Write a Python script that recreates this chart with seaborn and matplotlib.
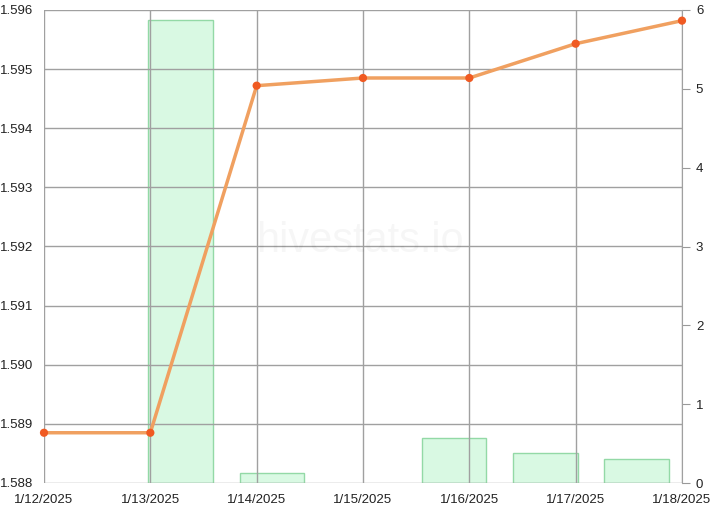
import matplotlib
matplotlib.use("Agg")
import matplotlib.pyplot as plt
import seaborn as sns
import pandas as pd

# Chart data
dates = ["1/12/2025", "1/13/2025", "1/14/2025", "1/15/2025",
         "1/16/2025", "1/17/2025", "1/18/2025"]
price = [1.58885, 1.58885, 1.59472, 1.59485, 1.59485, 1.59543, 1.59582]
volume = [0.0, 5.87, 0.13, 0.0, 0.57, 0.38, 0.30]
left_ticks = [1.588, 1.589, 1.590, 1.591, 1.592, 1.593, 1.594, 1.595, 1.596]
right_ticks = [0, 1, 2, 3, 4, 5, 6]

sns.set_style("white")
plt.rcParams['font.family'] = ['Liberation Sans', 'DejaVu Sans']

df = pd.DataFrame({"date": dates, "idx": range(len(dates)),
                   "price": price, "volume": volume})

fig = plt.figure(figsize=(7.12, 5.12), dpi=100)
rect = [44 / 712, 1 - 483 / 512, (682 - 44) / 712, (483 - 10) / 512]

# Volume bars (categorical slots, right axis)
ax_bar = fig.add_axes(rect)
sns.barplot(data=df, x="date", y="volume", ax=ax_bar, width=0.71,
            color="#d9f9e3", edgecolor="#93d9a6", linewidth=1, saturation=1)
# hide empty bars (no outline for zero volume)
for patch in ax_bar.patches:
    if patch.get_height() == 0:
        patch.set_visible(False)
ax_bar.set_xlim(-0.5, len(dates) - 0.5)
ax_bar.set_ylim(0, 6)
ax_bar.set_xticks([])
ax_bar.set_xlabel("")
ax_bar.set_ylabel("")
ax_bar.yaxis.tick_right()
ax_bar.set_yticks(right_ticks)
ax_bar.tick_params(axis="y", length=6, color="#999999", labelsize=9.5,
                   labelcolor="#222222", pad=4)
for s in ax_bar.spines.values():
    s.set_visible(False)

# Price line (left axis), drawn on top with grid
ax = fig.add_axes(rect)
ax.patch.set_alpha(0)
sns.lineplot(data=df, x="idx", y="price", ax=ax, color="#f0a060",
             linewidth=2.5, zorder=3)
sns.scatterplot(data=df, x="idx", y="price", ax=ax, color="#f05a22",
                s=35, edgecolor="none", zorder=4, clip_on=False)
ax.set_xlim(0, len(dates) - 1)
ax.set_ylim(1.588, 1.596)
ax.set_xticks(df["idx"])
ax.set_xticklabels(dates)
ax.set_yticks(left_ticks)
ax.set_yticklabels([f"{v:.3f}" for v in left_ticks])
ax.set_xlabel("")
ax.set_ylabel("")
ax.grid(True, color="#a0a0a0", linewidth=1)
ax.tick_params(axis="both", length=6, color="#a0a0a0", labelsize=9.5,
               labelcolor="#222222", pad=2)
for side in ["top", "left", "bottom"]:
    ax.spines[side].set_visible(False)
ax.spines["right"].set_color("#a0a0a0")

fig.text(0.505, 0.53, "hivestats.io", fontsize=30, color="#000000",
         alpha=0.035, ha="center", va="center")

fig.savefig("out.png", dpi=100)
